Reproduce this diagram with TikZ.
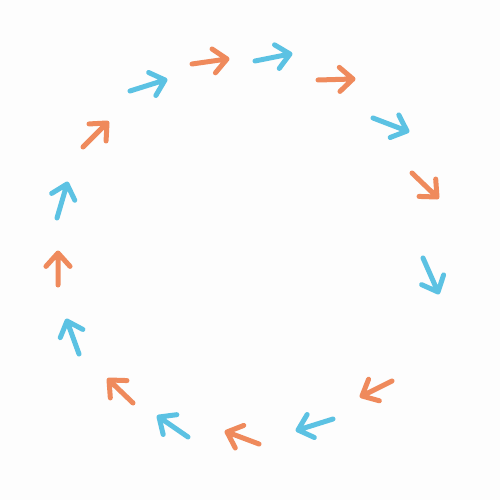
\documentclass[tikz,border=0pt]{standalone}
\usetikzlibrary{calc}
\definecolor{arrorange}{HTML}{EF8A5C}
\definecolor{arrblue}{HTML}{5CC2E3}
\definecolor{bgc}{HTML}{FDFDFD}
\tikzset{
  arr/.style={line width=5pt, line cap=round, line join=round},
}
\newcommand{\circarrow}[4]{%
  \coordinate (a#1) at #3;
  \coordinate (b#1) at #4;
  \draw[arr, #2] (a#1) -- (b#1)
    ($(b#1)!18pt!42:(a#1)$) -- (b#1) -- ($(b#1)!18pt!-42:(a#1)$);
}
\begin{document}
\begin{tikzpicture}[x=1pt,y=-1pt]
\fill[bgc] (0,0) rectangle (500,500);
\useasboundingbox (0,0) rectangle (500,500);
\circarrow{1}{arrorange}{(192,64)}{(227,59)}
\circarrow{2}{arrblue}{(130,91)}{(165,80)}
\circarrow{3}{arrorange}{(83,147)}{(107,123)}
\circarrow{4}{arrblue}{(57,218)}{(67,184)}
\circarrow{5}{arrblue}{(255,61)}{(290,54)}
\circarrow{6}{arrorange}{(318,80)}{(353,79)}
\circarrow{7}{arrblue}{(373,118)}{(407,131)}
\circarrow{8}{arrorange}{(412,173)}{(437,197)}
\circarrow{9}{arrblue}{(423,258)}{(438,292)}
\circarrow{10}{arrorange}{(392,381)}{(362,396)}
\circarrow{11}{arrblue}{(333,419)}{(298,430)}
\circarrow{12}{arrorange}{(259,444)}{(227,432)}
\circarrow{13}{arrblue}{(188,437)}{(159,417)}
\circarrow{14}{arrorange}{(133,403)}{(109,380)}
\circarrow{15}{arrblue}{(79,354)}{(67,321)}
\circarrow{16}{arrorange}{(58,285)}{(58,253)}
\end{tikzpicture}
\end{document}
